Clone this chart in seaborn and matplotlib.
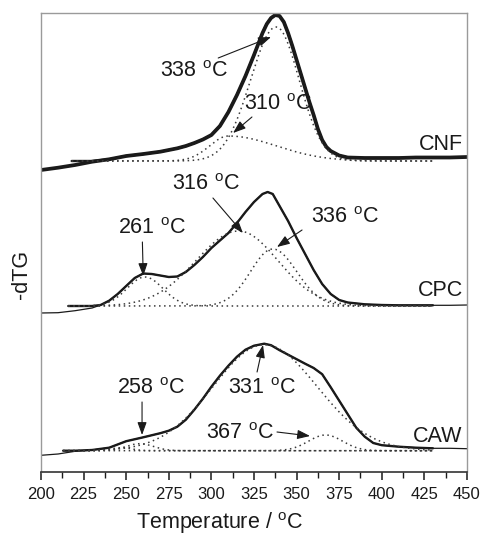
import numpy as np
import pandas as pd
import matplotlib
matplotlib.use("Agg")
import matplotlib.pyplot as plt
import seaborn as sns

# ---- measured -dTG traces (height above each trace's own baseline, a.u.) ----
cnf_temp = [200, 210, 220, 230, 240, 250, 260, 270, 280, 285, 290, 295, 300, 305,
            310, 315, 320, 325, 330, 332.5, 335, 337.5, 340, 342.5, 345, 347.5,
            350, 352.5, 355, 357.5, 360, 362.5, 365, 367.5, 370, 375, 380, 390,
            400, 410, 420, 430, 440, 450]
cnf_dtg = [-9, -6.7, -4, -0.7, 1.7, 5, 7, 9.3, 12.7, 15, 18, 21.5, 26, 35,
           49, 66, 85, 106, 128, 137, 143, 146, 145, 139, 128, 115,
           101, 87, 73, 59, 46, 32, 21, 14, 10, 5.5, 3.5, 3,
           3, 3, 3.5, 3.5, 3.5, 4]

cpc_temp = [200, 210, 220, 230, 235, 240, 245, 250, 255, 260, 265, 270, 275, 280,
            285, 290, 295, 300, 305, 310, 315, 320, 325, 330, 333, 336, 340, 345,
            350, 355, 360, 365, 370, 375, 380, 390, 400, 410, 420, 430, 440, 450]
cpc_dtg = [-7, -6.7, -4.7, -2, 1, 5.3, 12, 20, 28, 32.5, 32, 30.5, 29, 29.5,
           34, 41, 49, 58, 65.5, 73, 83, 94, 104, 112, 114, 112, 100, 85,
           68, 52, 36, 22, 12, 6, 3.5, 1.7, 1, 0.7, 0.7, 0.7, 0.7, 1]

caw_temp = [200, 210, 220, 230, 240, 250, 260, 270, 275, 280, 285, 290, 295, 300,
            305, 310, 315, 320, 325, 331, 335, 340, 345, 350, 355, 360, 365, 370,
            375, 380, 385, 390, 395, 400, 410, 420, 430, 440, 450]
caw_dtg = [-4.6, -3.3, -0.6, 0.7, 3, 9.5, 13.4, 17.5, 20, 24, 31, 41, 52, 64,
           75, 85, 94, 101, 105, 107, 105.5, 100.5, 96, 91.5, 87, 82.7, 76.5, 63.5,
           50, 36.5, 23, 14, 7.7, 5.5, 4, 3, 2.4, 2.4, 2]

# ---- deconvolution peaks: centre (°C), height, left / right width (°C) ----
cnf_centers = [338, 310]
cnf_heights = [134, 25]
cnf_sig_left = [15, 11]
cnf_sig_right = [13.5, 28]

cpc_centers = [261, 316, 336]
cpc_heights = [29, 75, 57]
cpc_sig_left = [10.5, 25, 13]
cpc_sig_right = [10.5, 23, 14]

caw_centers = [247, 258, 331, 367]
caw_heights = [3, 7, 106, 15.7]
caw_sig_left = [6, 8, 30, 10]
caw_sig_right = [6, 8, 31, 10]

sample_names = ["CNF", "CPC", "CAW"]
fit_start = [218, 216, 213]
fit_end = 430
x_ticks = [200, 225, 250, 275, 300, 325, 350, 375, 400, 425, 450]

# ---- style ----
sns.set_style("white")
plt.rcParams["font.family"] = ["Liberation Sans", "DejaVu Sans"]
plt.rcParams["mathtext.fontset"] = "custom"
plt.rcParams["mathtext.rm"] = "Liberation Sans"
plt.rcParams["mathtext.it"] = "Liberation Sans:italic"
plt.rcParams["lines.solid_joinstyle"] = "round"

INK = "#1a1a1a"
DOT = "#3a3a3a"
DEG = "$^{\\rm o}$C"

fig = plt.figure(figsize=(4.82, 5.35), dpi=100)
ax = fig.add_axes([41 / 482, 1 - 472 / 535, 426 / 482, 459 / 535])


def bigauss(t, c, h, sl, sr):
    s = np.where(t < c, sl, sr)
    return h * np.exp(-((t - c) ** 2) / (2 * s ** 2))


samples = [
    (cnf_temp, cnf_dtg, cnf_centers, cnf_heights, cnf_sig_left, cnf_sig_right, 311.0, 2.7),
    (cpc_temp, cpc_dtg, cpc_centers, cpc_heights, cpc_sig_left, cpc_sig_right, 166.0, 0.9),
    (caw_temp, caw_dtg, caw_centers, caw_heights, caw_sig_left, caw_sig_right, 21.3, 0.9),
]

for i, (temp, dtg, cen, hgt, sl, sr, base, meas_lw) in enumerate(samples):
    df = pd.DataFrame({"T": temp, "dtg": dtg})
    # measured trace over the whole range
    sns.lineplot(x=df["T"], y=df["dtg"] + base, ax=ax, color=INK, lw=meas_lw,
                 estimator=None, sort=False)
    # fitted envelope over the fitting window
    win = df[(df["T"] > fit_start[i]) & (df["T"] <= fit_end)]
    fit_T = [fit_start[i]] + win["T"].tolist()
    fit_v = [0.0] + np.maximum(win["dtg"].to_numpy(), 0).tolist()
    sns.lineplot(x=fit_T, y=np.array(fit_v) + base, ax=ax, color=INK, lw=1.7,
                 estimator=None, sort=False)
    # individual peaks
    grid = np.linspace(fit_start[i], fit_end, 400)
    for c, h, a, b in zip(cen, hgt, sl, sr):
        sns.lineplot(x=grid, y=bigauss(grid, c, h, a, b) + base, ax=ax,
                     color=DOT, lw=1.1, linestyle=(0, (1, 2.3)),
                     estimator=None, sort=False)


def mark_peak(temp, text_pos, start, tip):
    ax.text(text_pos[0], text_pos[1], f"{temp} {DEG}", ha="center", va="center",
            fontsize=15.5, color=INK)
    ax.annotate("", xy=tip, xytext=start,
                arrowprops=dict(arrowstyle="-|>,head_length=0.55,head_width=0.2",
                                lw=0.8, color=INK, shrinkA=0, shrinkB=0,
                                mutation_scale=14))


mark_peak(cnf_centers[0], (289.5, 400.5), (304, 414), (335, 435))
mark_peak(cnf_centers[1], (338.8, 367), (323.8, 355), (312.7, 339))
mark_peak(cpc_centers[1], (296.5, 288), (300.9, 274), (318.5, 239))
mark_peak(cpc_centers[2], (378.1, 254.5), (353.2, 242), (338.5, 225))
mark_peak(cpc_centers[0], (264.8, 243.5), (259.5, 230), (260, 196))
mark_peak(caw_centers[1], (264.3, 83.5), (259.3, 70), (259.3, 37))
mark_peak(caw_centers[2], (329.4, 83.5), (326.8, 100), (330.3, 127))
mark_peak(caw_centers[3], (316.5, 38.5), (338.5, 40), (357.9, 36))

for name, y in zip(sample_names, [327.5, 181.5, 35.5]):
    ax.text(447.5, y, name, ha="right", va="center", fontsize=15.5, color=INK)

ax.set_xlim(200, 450)
ax.set_ylim(0, 459)
ax.set_xticks(x_ticks)
ax.set_xticks(np.arange(212.5, 450, 25), minor=True)
ax.set_yticks([])
ax.tick_params(axis="x", which="major", direction="out", length=6, width=1.1,
               color=INK, labelsize=12, pad=5, labelcolor=INK, bottom=True)
ax.tick_params(axis="x", which="minor", direction="out", length=4, width=1.0,
               color=INK, bottom=True)

for side in ["top", "left", "right"]:
    ax.spines[side].set_color("#9a9a9a")
    ax.spines[side].set_linewidth(1.0)
ax.spines["bottom"].set_color("#333333")
ax.spines["bottom"].set_linewidth(1.2)

ax.set_xlabel(f"Temperature / {DEG}", fontsize=15.5, color=INK, va="center")
ax.xaxis.set_label_coords(0.42, -0.111)
ax.set_ylabel("-dTG", fontsize=15.5, color=INK, va="center")
ax.yaxis.set_label_coords(-0.045, 0.43)

fig.savefig("out.png", dpi=100)
